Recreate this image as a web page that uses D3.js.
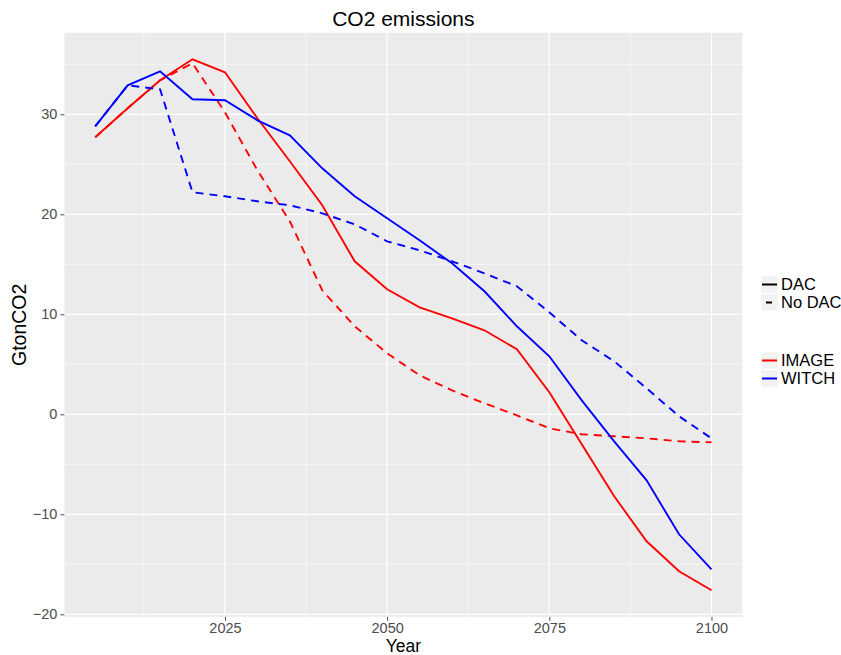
<!DOCTYPE html>
<html>
<head>
<meta charset="utf-8">
<script src="https://cdn.jsdelivr.net/npm/d3@7"></script>
<style>
  body { margin: 0; background: #fff; }
  text { font-family: "Liberation Sans", Arial, sans-serif; }
</style>
</head>
<body>
<div id="chart"></div>
<script>
// data
var years = [2005, 2010, 2015, 2020, 2025, 2030, 2035, 2040, 2045, 2050,
             2055, 2060, 2065, 2070, 2075, 2080, 2085, 2090, 2095, 2100];
var imageDAC   = [27.7, 30.6, 33.4, 35.5, 34.2, 29.6, 25.3, 20.9, 15.3, 12.5,
                  10.7, 9.6, 8.4, 6.5, 2.2, -3.0, -8.2, -12.7, -15.7, -17.6];
var imageNoDAC = [27.7, 30.6, 33.4, 35.1, 30.2, 24.4, 19.3, 12.4, 8.8, 6.1,
                  3.9, 2.4, 1.1, -0.1, -1.4, -2.0, -2.2, -2.4, -2.7, -2.8];
var witchDAC   = [28.8, 32.9, 34.3, 31.5, 31.4, 29.4, 27.9, 24.6, 21.8, 19.6,
                  17.4, 15.1, 12.3, 8.8, 5.8, 1.4, -2.7, -6.6, -12.0, -15.5];
var witchNoDAC = [28.8, 32.9, 32.5, 22.2, 21.8, 21.3, 20.9, 20.1, 19.0, 17.3,
                  16.4, 15.3, 14.1, 12.8, 10.2, 7.4, 5.3, 2.6, -0.2, -2.4];

var models = ["IMAGE", "WITCH"];
var scenarios = ["DAC", "No DAC"];
var xTicks = [2025, 2050, 2075, 2100];
var yTicks = [-20, -10, 0, 10, 20, 30];

var series = [
  {model: "IMAGE", scen: "DAC",    values: imageDAC},
  {model: "IMAGE", scen: "No DAC", values: imageNoDAC},
  {model: "WITCH", scen: "DAC",    values: witchDAC},
  {model: "WITCH", scen: "No DAC", values: witchNoDAC}
];

var W = 841, H = 655;
var margin = {top: 32.75, right: 98.7, bottom: 38.15, left: 64.4},
    width = W - margin.left - margin.right,
    height = H - margin.top - margin.bottom;

var color = d3.scaleOrdinal().domain(models).range(["#ff0000", "#0000ff"]);
var dash = d3.scaleOrdinal().domain(scenarios).range(["none", "8,6"]);

// ggplot style 5% expansion
var xr = d3.extent(years), xe = (xr[1] - xr[0]) * 0.05;
var allV = d3.merge(series.map(function(s) { return s.values; }));
var yr = d3.extent(allV), ye = (yr[1] - yr[0]) * 0.05;

var x = d3.scaleLinear().domain([xr[0] - xe, xr[1] + xe]).range([0, width]);
var y = d3.scaleLinear().domain([yr[0] - ye, yr[1] + ye]).range([height, 0]);

var svg = d3.select("#chart").append("svg")
    .attr("width", W).attr("height", H);
var g = svg.append("g")
    .attr("transform", "translate(" + margin.left + "," + margin.top + ")");

g.append("rect").attr("width", width).attr("height", height).attr("fill", "#ebebeb");

// minor grid
var xMinor = xTicks.map(function(t) { return t - 12.5; });
var yMinor = yTicks.map(function(t) { return t + 5; });
g.selectAll(".xminor").data(xMinor).enter().append("line")
    .attr("x1", x).attr("x2", x).attr("y1", 0).attr("y2", height)
    .attr("stroke", "#fff").attr("stroke-width", 0.6);
g.selectAll(".yminor").data(yMinor).enter().append("line")
    .attr("y1", y).attr("y2", y).attr("x1", 0).attr("x2", width)
    .attr("stroke", "#fff").attr("stroke-width", 0.6);
// major grid
g.selectAll(".xmajor").data(xTicks).enter().append("line")
    .attr("x1", x).attr("x2", x).attr("y1", 0).attr("y2", height)
    .attr("stroke", "#fff").attr("stroke-width", 1.2);
g.selectAll(".ymajor").data(yTicks).enter().append("line")
    .attr("y1", y).attr("y2", y).attr("x1", 0).attr("x2", width)
    .attr("stroke", "#fff").attr("stroke-width", 1.2);

// axes
var xAxis = d3.axisBottom(x).tickValues(xTicks).tickSize(4).tickPadding(1.5)
    .tickFormat(d3.format("d"));
var yAxis = d3.axisLeft(y).tickValues(yTicks).tickSize(4).tickPadding(3)
    .tickFormat(function(d) { return d < 0 ? "\u2212" + Math.abs(d) : d; });

var gx = g.append("g").attr("transform", "translate(0," + height + ")").call(xAxis);
var gy = g.append("g").call(yAxis);
[gx, gy].forEach(function(a) {
  a.select(".domain").remove();
  a.selectAll(".tick line").attr("stroke", "#4d4d4d");
  a.selectAll(".tick text").attr("fill", "#4d4d4d")
    .style("font-size", "14.5px").style("font-family", "'Liberation Sans', Arial, sans-serif");
});

// lines
var line = d3.line()
    .x(function(d, i) { return x(years[i]); })
    .y(function(d) { return y(d); });

g.selectAll(".series").data(series).enter().append("path")
    .attr("d", function(s) { return line(s.values); })
    .attr("fill", "none")
    .attr("stroke", function(s) { return color(s.model); })
    .attr("stroke-width", 1.9)
    .attr("stroke-dasharray", function(s) { return dash(s.scen); });

// titles
svg.append("text").attr("x", margin.left + width / 2).attr("y", 26)
    .attr("text-anchor", "middle").style("font-size", "21px").text("CO2 emissions");
svg.append("text").attr("x", margin.left + width / 2).attr("y", 651.8)
    .attr("text-anchor", "middle").style("font-size", "17.5px").text("Year");
svg.append("text")
    .attr("transform", "translate(26," + (margin.top + height / 2) + ") rotate(-90)")
    .attr("text-anchor", "middle").style("font-size", "19.5px").text("GtonCO2");

// legends
var keyX = 761, keyW = 17;
var lt = svg.append("g").selectAll("g").data(scenarios).enter().append("g")
    .attr("transform", function(d, i) { return "translate(" + keyX + "," + (276 + i * 18) + ")"; });
lt.append("rect").attr("width", keyW).attr("height", 17).attr("fill", "#f2f2f2")
    .attr("stroke", "#fff").attr("stroke-width", 0.5);
lt.append("line").attr("x1", 1).attr("x2", keyW - 1).attr("y1", 8.5).attr("y2", 8.5)
    .attr("stroke", "#000").attr("stroke-width", 2)
    .attr("stroke-dasharray", function(d) { return d === "DAC" ? "none" : "6,7"; })
    .attr("stroke-dashoffset", function(d) { return d === "DAC" ? 0 : -4; });
lt.append("text").attr("x", keyW + 3).attr("y", 8.5).attr("dy", "0.35em")
    .style("font-size", "16.5px").text(function(d) { return d; });

var lc = svg.append("g").selectAll("g").data(models).enter().append("g")
    .attr("transform", function(d, i) { return "translate(" + keyX + "," + (352 + i * 18) + ")"; });
lc.append("rect").attr("width", keyW).attr("height", 17).attr("fill", "#f2f2f2")
    .attr("stroke", "#fff").attr("stroke-width", 0.5);
lc.append("line").attr("x1", 1).attr("x2", keyW - 1).attr("y1", 8.5).attr("y2", 8.5)
    .attr("stroke", function(d) { return color(d); }).attr("stroke-width", 2);
lc.append("text").attr("x", keyW + 3).attr("y", 8.5).attr("dy", "0.35em")
    .style("font-size", "16.5px").text(function(d) { return d; });
</script>
</body>
</html>
